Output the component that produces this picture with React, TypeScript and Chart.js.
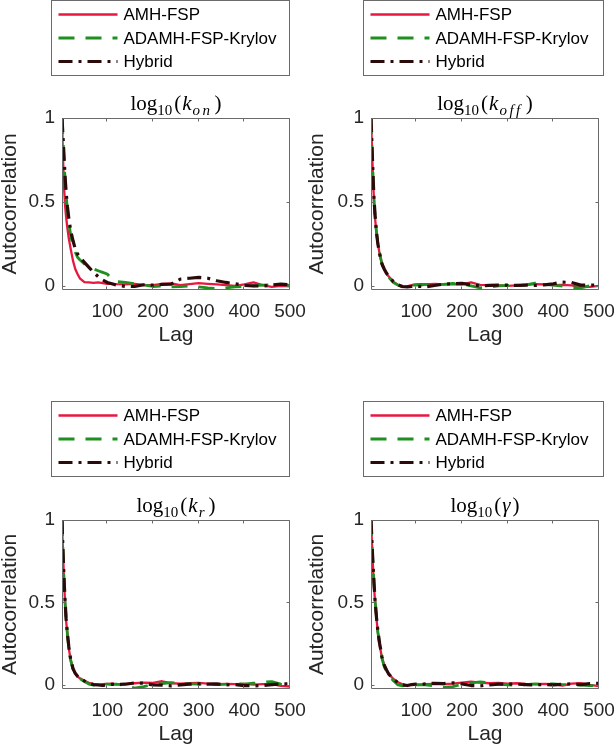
import React, { useEffect, useRef } from 'react';
import { Chart, registerables } from 'chart.js';

Chart.register(...registerables);

// ---------- data ----------
const lags = [1, 2, 4, 6, 8, 10, 13, 16, 20, 25, 30, 35, 40, 50, 60, 70, 80, 90, 100, 110, 120, 140, 160, 180, 200, 220, 240, 260, 280, 300, 320, 340, 360, 380, 400, 420, 440, 460, 480, 500];

const seriesLabels = ['AMH-FSP', 'ADAMH-FSP-Krylov', 'Hybrid'];
const xTickValues = [100, 200, 300, 400, 500];
const yTickValues = [0, 0.5, 1];

const konAMH = [1, 0.88, 0.7, 0.56, 0.47, 0.41, 0.34, 0.28, 0.22, 0.15, 0.1, 0.07, 0.045, 0.022, 0.02, 0.018, 0.02, 0.016, 0.012, 0.012, 0.01, 0.008, 0.012, 0.006, 0.004, 0.012, 0.014, 0.004, 0.01, 0.016, 0.012, 0.008, 0.004, 0.0, 0.008, 0.02, 0.004, -0.006, 0.0, -0.004];
const konKrylov = [1, 0.94, 0.83, 0.72, 0.62, 0.54, 0.45, 0.38, 0.3, 0.24, 0.2, 0.17, 0.155, 0.13, 0.115, 0.1, 0.09, 0.08, 0.07, 0.04, 0.025, 0.02, 0.012, 0.005, -0.004, -0.002, -0.006, -0.004, -0.002, -0.006, -0.012, -0.016, -0.012, -0.006, -0.004, 0.0, 0.004, 0.006, 0.008, 0.002];
const konHybrid = [1, 0.95, 0.85, 0.74, 0.64, 0.56, 0.47, 0.4, 0.33, 0.27, 0.22, 0.19, 0.17, 0.14, 0.11, 0.08, 0.055, 0.035, 0.02, 0.012, 0.004, -0.004, -0.004, 0.006, 0.004, 0.008, 0.01, 0.04, 0.045, 0.05, 0.045, 0.03, 0.02, 0.012, 0.002, 0.0, -0.002, 0.004, 0.01, 0.006];

const koffAMH = [1, 0.92, 0.75, 0.6, 0.48, 0.4, 0.31, 0.25, 0.19, 0.13, 0.095, 0.07, 0.055, 0.025, 0.005, -0.008, -0.004, 0.004, 0.008, 0.01, 0.008, 0.012, 0.008, 0.01, 0.008, 0.02, 0.006, 0.004, 0.002, 0.0, 0.002, 0.006, 0.01, 0.008, 0.004, 0.006, 0.002, -0.008, -0.006, 0.0];
const koffKrylov = [1, 0.92, 0.76, 0.61, 0.49, 0.41, 0.32, 0.25, 0.19, 0.13, 0.095, 0.07, 0.05, 0.02, 0.004, -0.006, -0.002, 0.004, 0.006, 0.004, 0.008, 0.01, 0.008, 0.014, 0.012, 0.0, -0.012, -0.008, 0.0, 0.002, 0.0, 0.006, 0.016, 0.008, 0.004, -0.002, -0.01, -0.012, 0.0, 0.006];
const koffHybrid = [1, 0.93, 0.77, 0.62, 0.5, 0.42, 0.32, 0.25, 0.19, 0.13, 0.1, 0.075, 0.055, 0.025, 0.006, -0.004, -0.006, -0.004, -0.002, -0.004, -0.006, 0.002, 0.01, 0.012, 0.014, 0.006, 0.0, 0.002, 0.004, 0.004, 0.002, 0.004, 0.002, 0.006, 0.012, 0.022, 0.02, 0.004, 0.004, 0.006];

const krAMH = [1, 0.9, 0.74, 0.6, 0.48, 0.39, 0.3, 0.22, 0.15, 0.095, 0.068, 0.052, 0.04, 0.025, 0.012, 0.004, 0.0, 0.004, 0.006, 0.008, 0.004, 0.006, 0.01, 0.014, 0.012, 0.022, 0.01, 0.008, 0.01, 0.012, 0.008, 0.004, 0.006, 0.004, 0.006, 0.002, 0.004, 0.004, -0.006, -0.01];
const krKrylov = [1, 0.9, 0.74, 0.6, 0.49, 0.4, 0.3, 0.22, 0.15, 0.095, 0.066, 0.05, 0.038, 0.02, 0.005, -0.002, 0.0, 0.004, 0.004, 0.002, 0.004, -0.004, -0.02, -0.01, 0.002, 0.008, 0.014, 0.01, 0.006, 0.004, 0.006, 0.002, 0.004, 0.008, 0.004, 0.01, 0.016, 0.02, 0.004, 0.0];
const krHybrid = [1, 0.91, 0.75, 0.61, 0.5, 0.4, 0.31, 0.23, 0.155, 0.1, 0.07, 0.052, 0.04, 0.024, 0.01, 0.002, 0.0, -0.004, 0.0, 0.004, 0.002, 0.004, 0.012, 0.01, 0.0, -0.002, -0.006, 0.0, 0.004, 0.006, 0.004, 0.006, 0.0, 0.002, -0.004, -0.006, -0.004, 0.002, 0.006, 0.006];

const gammaAMH = [1, 0.93, 0.8, 0.68, 0.58, 0.5, 0.4, 0.32, 0.24, 0.165, 0.12, 0.09, 0.066, 0.036, 0.016, 0.004, -0.004, 0.0, 0.002, 0.0, 0.004, 0.006, 0.004, 0.008, 0.014, 0.02, 0.014, 0.01, 0.012, 0.008, 0.01, 0.006, 0.004, 0.006, 0.004, -0.004, 0.008, 0.01, 0.0, -0.008];
const gammaKrylov = [1, 0.93, 0.81, 0.69, 0.59, 0.51, 0.41, 0.32, 0.24, 0.16, 0.11, 0.08, 0.055, 0.025, 0.0, -0.006, -0.002, 0.002, 0.0, 0.002, 0.0, -0.006, -0.016, -0.01, 0.004, 0.012, 0.018, 0.012, 0.004, 0.0, -0.002, 0.002, 0.006, 0.004, 0.006, 0.002, 0.0, -0.002, -0.004, -0.006];
const gammaHybrid = [1, 0.94, 0.81, 0.7, 0.6, 0.51, 0.41, 0.33, 0.25, 0.17, 0.12, 0.09, 0.065, 0.035, 0.014, 0.0, -0.004, 0.002, 0.004, 0.002, 0.006, 0.01, 0.008, 0.012, 0.006, -0.004, -0.006, 0.0, 0.004, 0.006, 0.004, 0.002, 0.0, 0.002, 0.0, 0.004, 0.006, 0.002, 0.008, 0.01];

// ---------- styles ----------
const SANS = '"Liberation Sans", Arial, Helvetica, sans-serif';
const SERIF = '"Liberation Serif", "Times New Roman", serif';
const AXIS_COLOR = '#6a6a6a';
const TEXT_COLOR = '#262626';

const seriesStyles = [
  { color: '#e8173f', width: 2.3, dash: [] as number[], order: 2 },
  { color: '#1f8f1f', width: 2.8, dash: [16, 11], order: 1 },
  { color: '#2b0a0a', width: 3.2, dash: [14, 6, 3, 6], order: 0 },
];

type Seg = { t: string; it?: boolean; sub?: boolean; pre?: number; post?: number; ls?: number };

const W = 307;
const H = 375;

const titleKon: Seg[] = [{ t: 'log' }, { t: '10', sub: true, post: 2 }, { t: '(' }, { t: 'k', it: true, pre: 1, post: 1 }, { t: 'on', it: true, sub: true, ls: 2.5, post: 2 }, { t: ')' }];
const titleKoff: Seg[] = [{ t: 'log' }, { t: '10', sub: true, post: 2 }, { t: '(' }, { t: 'k', it: true, pre: 1, post: 1 }, { t: 'off', it: true, sub: true, ls: 2.5, post: 3 }, { t: ')' }];
const titleKr: Seg[] = [{ t: 'log' }, { t: '10', sub: true, post: 2 }, { t: '(' }, { t: 'k', it: true, pre: 1, post: 1 }, { t: 'r', it: true, sub: true, ls: 1, post: 3 }, { t: ')' }];
const titleGamma: Seg[] = [{ t: 'log' }, { t: '10', sub: true, post: 2 }, { t: '(' }, { t: 'γ', it: true, pre: 1, post: 2 }, { t: ')' }];

const panels = [
  {
    key: 'kon', left: 0, top: 0, title: titleKon,
    series: [konAMH, konKrylov, konHybrid],
    areaLeft: 62, areaRight: 290, areaTop: 118, padBottom: 27,
    legend: { x: 51.5, y: 0.5, w: 238, h: 75 },
  },
  {
    key: 'koff', left: 307, top: 0, title: titleKoff,
    series: [koffAMH, koffKrylov, koffHybrid],
    areaLeft: 64, areaRight: 292, areaTop: 118, padBottom: 27,
    legend: { x: 56.5, y: 0.5, w: 240, h: 75 },
  },
  {
    key: 'kr', left: 0, top: 375, title: titleKr,
    series: [krAMH, krKrylov, krHybrid],
    areaLeft: 62, areaRight: 290, areaTop: 145, padBottom: 3,
    legend: { x: 51.5, y: 26.5, w: 238, h: 75 },
  },
  {
    key: 'gamma', left: 307, top: 375, title: titleGamma,
    series: [gammaAMH, gammaKrylov, gammaHybrid],
    areaLeft: 64, areaRight: 292, areaTop: 145, padBottom: 3,
    legend: { x: 56.5, y: 26.5, w: 240, h: 75 },
  },
];

const decorPlugin = {
  id: 'decor',
  afterDatasetsDraw(chart: any) {
    const { ctx, chartArea: a, scales } = chart;
    const xs = scales.x;
    const ys = scales.y;
    const L = Math.round(a.left) + 0.5;
    const R = Math.round(a.right) - 0.5;
    const T = Math.round(a.top) + 0.5;
    const B = Math.round(a.bottom) - 0.5;
    ctx.save();
    ctx.strokeStyle = AXIS_COLOR;
    ctx.lineWidth = 1;
    ctx.setLineDash([]);
    ctx.beginPath();
    ctx.rect(L, T, R - L, B - T);
    const tl = 3;
    for (const v of xTickValues) {
      const px = Math.round(xs.getPixelForValue(v)) - 0.5;
      ctx.moveTo(px, B); ctx.lineTo(px, B - tl);
      ctx.moveTo(px, T); ctx.lineTo(px, T + tl);
    }
    for (const v of yTickValues) {
      const py = Math.round(ys.getPixelForValue(v)) + 0.5;
      ctx.moveTo(L, py); ctx.lineTo(L + tl, py);
      ctx.moveTo(R, py); ctx.lineTo(R - tl, py);
    }
    ctx.stroke();
    ctx.restore();
  },
  afterDraw(chart: any, _args: any, opts: any) {
    const { ctx, chartArea: a } = chart;
    ctx.save();
    // title (math-style text)
    const segs: Seg[] = opts.title || [];
    const big = 21;
    const small = 15;
    const fontFor = (s: Seg) => `${s.it ? 'italic ' : ''}${s.sub ? small : big}px ${SERIF}`;
    const segWidth = (s: Seg) => {
      ctx.font = fontFor(s);
      let w = 0;
      const ls = s.ls || 0;
      for (const ch of s.t) w += ctx.measureText(ch).width + ls;
      return (s.pre || 0) + w + (s.post || 0);
    };
    let total = 0;
    segs.forEach((s) => { total += segWidth(s); });
    let x = (a.left + a.right) / 2 - total / 2;
    const baseY = a.top - 8;
    ctx.fillStyle = '#000';
    ctx.textBaseline = 'alphabetic';
    ctx.textAlign = 'left';
    segs.forEach((s) => {
      ctx.font = fontFor(s);
      x += s.pre || 0;
      for (const ch of s.t) {
        ctx.fillText(ch, x, baseY + (s.sub ? 5 : 0));
        x += ctx.measureText(ch).width + (s.ls || 0);
      }
      x += s.post || 0;
    });

    // legend
    const lg = opts.legend;
    if (lg) {
      ctx.fillStyle = '#fff';
      ctx.fillRect(lg.x, lg.y, lg.w, lg.h);
      ctx.strokeStyle = AXIS_COLOR;
      ctx.lineWidth = 1;
      ctx.setLineDash([]);
      ctx.strokeRect(lg.x, lg.y, lg.w, lg.h);
      const rows = [14, 37.5, 61];
      chart.data.datasets.forEach((ds: any, i: number) => {
        const yy = lg.y + rows[i];
        ctx.beginPath();
        ctx.strokeStyle = ds.borderColor;
        ctx.lineWidth = ds.borderWidth;
        ctx.lineCap = 'butt';
        ctx.setLineDash(ds.borderDash || []);
        ctx.moveTo(lg.x + 7, yy);
        ctx.lineTo(lg.x + 66, yy);
        ctx.stroke();
        ctx.setLineDash([]);
        ctx.fillStyle = '#000';
        ctx.font = `17px ${SANS}`;
        ctx.textBaseline = 'middle';
        ctx.fillText(ds.label, lg.x + 72, yy + 1);
      });
    }
    ctx.restore();
  },
};

function Panel({ p }: { p: (typeof panels)[number] }) {
  const ref = useRef<HTMLCanvasElement>(null);
  useEffect(() => {
    const canvas = ref.current;
    if (!canvas) return;
    const datasets = p.series.map((vals, i) => ({
      label: seriesLabels[i],
      data: lags.map((l, j) => ({ x: l, y: vals[j] })),
      borderColor: seriesStyles[i].color,
      backgroundColor: seriesStyles[i].color,
      borderWidth: seriesStyles[i].width,
      borderDash: seriesStyles[i].dash,
      borderCapStyle: 'butt',
      borderJoinStyle: 'round',
      pointRadius: 0,
      tension: 0,
      fill: false,
      order: seriesStyles[i].order,
    }));
    const chart = new Chart(canvas, {
      type: 'line',
      data: { datasets } as any,
      options: {
        animation: false,
        responsive: false,
        maintainAspectRatio: false,
        events: [],
        layout: { padding: { left: 0, right: W - p.areaRight, top: p.areaTop, bottom: p.padBottom } },
        plugins: {
          legend: { display: false },
          title: { display: false },
          tooltip: { enabled: false },
          decor: { title: p.title, legend: p.legend },
        } as any,
        scales: {
          x: {
            type: 'linear',
            min: 1,
            max: 500,
            afterBuildTicks: (s: any) => { s.ticks = xTickValues.map((v) => ({ value: v })); },
            afterFit: (s: any) => { s.height = 58; s.paddingLeft = 0; s.paddingRight = 0; },
            grid: { display: false, drawTicks: false },
            border: { display: false },
            ticks: { font: { family: SANS, size: 19 }, color: TEXT_COLOR, padding: 10, maxRotation: 0, autoSkip: false, callback: (v: any) => String(v) },
            title: { display: true, text: 'Lag', font: { family: SANS, size: 21, lineHeight: 1.2 }, color: TEXT_COLOR, padding: 0 },
          },
          y: {
            type: 'linear',
            min: -0.025,
            max: 1,
            afterBuildTicks: (s: any) => { s.ticks = yTickValues.map((v) => ({ value: v })); },
            afterFit: (s: any) => { s.width = p.areaLeft; s.paddingTop = 0; s.paddingBottom = 0; },
            grid: { display: false, drawTicks: false },
            border: { display: false },
            ticks: { font: { family: SANS, size: 19 }, color: TEXT_COLOR, padding: 7, autoSkip: false, callback: (v: any) => String(v) },
            title: { display: true, text: 'Autocorrelation', font: { family: SANS, size: 21, lineHeight: 1 }, color: TEXT_COLOR, padding: 0 },
          },
        },
      } as any,
      plugins: [decorPlugin as any],
    });
    return () => chart.destroy();
  }, [p]);
  return (
    <canvas
      ref={ref}
      width={W}
      height={H}
      style={{ position: 'absolute', left: p.left, top: p.top, width: W, height: H }}
    />
  );
}

export default function App() {
  return (
    <div style={{ position: 'absolute', left: 0, top: 0, width: 614, height: 750, background: '#fff' }}>
      {panels.map((p) => (
        <Panel key={p.key} p={p} />
      ))}
    </div>
  );
}
